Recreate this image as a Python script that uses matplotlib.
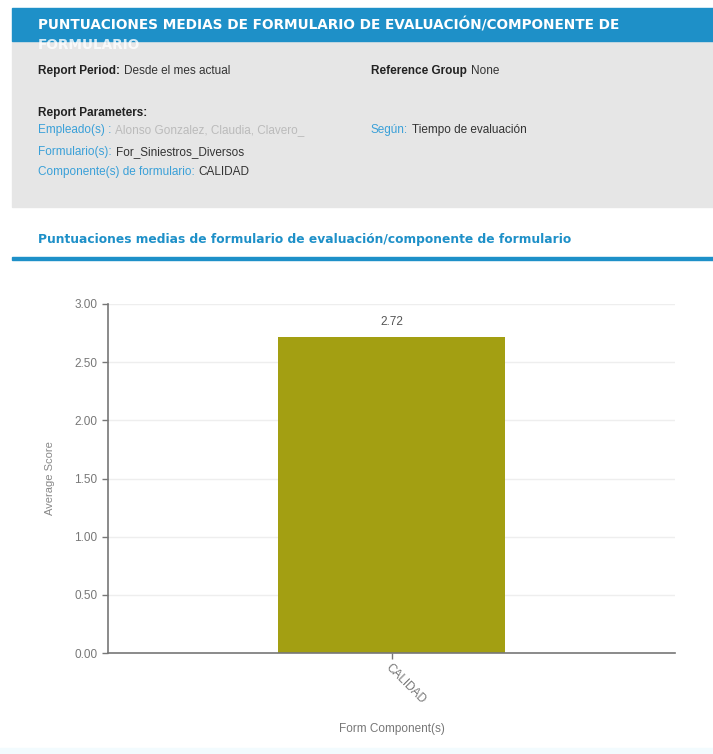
import matplotlib.pyplot as plt
from matplotlib.patches import Rectangle

W, H = 713, 754

categories = ["CALIDAD"]
scores = [2.72]
y_ticks = [0.0, 0.5, 1.0, 1.5, 2.0, 2.5, 3.0]

title = "PUNTUACIONES MEDIAS DE FORMULARIO DE EVALUACIÓN/COMPONENTE DE"
title2 = "FORMULARIO"
subtitle = "Puntuaciones medias de formulario de evaluación/componente de formulario"

# label / value pairs of the parameter panel: (x, y, label, value, label style)
params = [
    (38, 71, "Report Period:", "Desde el mes actual", "bold"),
    (371, 71, "Reference Group", "None", "bold"),
    (38, 113, "Report Parameters:", "", "bold"),
    (38, 130, "Empleado(s) :", "Alonso Gonzalez, Claudia, Clavero_", "link"),
    (38, 152, "Formulario(s):", "For_Siniestros_Diversos", "link"),
    (38, 172, "Componente(s) de formulario:", "CALIDAD", "link"),
    (371, 130, "Según:", "Tiempo de evaluación", "link"),
]

blue = "#1e90c8"
label_blue = "#3aa0d8"
gray_panel = "#e6e6e6"
bar_color = "#a39f12"
axis_gray = "#777777"


def fx(px):
    return px / W


def fy(py):
    return 1 - py / H


fig = plt.figure(figsize=(W / 100, H / 100), dpi=100)
fig.patch.set_facecolor("white")
renderer = fig.canvas.get_renderer()

# header band and parameter panel
fig.patches.append(Rectangle((fx(12), fy(207)), fx(701), (207 - 41) / H,
                             transform=fig.transFigure, color=gray_panel, zorder=0))
fig.patches.append(Rectangle((fx(12), fy(41)), fx(701), 33 / H,
                             transform=fig.transFigure, color=blue, zorder=0))
fig.patches.append(Rectangle((fx(12), fy(259.5)), fx(701), 3 / H,
                             transform=fig.transFigure, color=blue, zorder=0))
fig.patches.append(Rectangle((0, 0), 1, 6 / H,
                             transform=fig.transFigure, color="#f2fbfe", zorder=0))

fig.text(fx(38), fy(25), title, color="white", fontsize=9.8, fontweight="bold",
         family="DejaVu Sans", va="center")
fig.text(fx(38), fy(45), title2, color="white", fontsize=9.8, fontweight="bold",
         family="DejaVu Sans", va="center", alpha=0.8)

body = dict(fontsize=8.5, family="Liberation Sans", va="center")
for x, y, lab, val, kind in params:
    if kind == "bold":
        t = fig.text(fx(x), fy(y), lab, fontweight="bold", color="#222222", **body)
    else:
        t = fig.text(fx(x), fy(y), lab, color=label_blue, **body)
    if val:
        end = t.get_window_extent(renderer).x1
        vcol = "#bbbbbb" if val.startswith("Alonso") else "#333333"
        fig.text((end + 4) / W, fy(y), val, color=vcol, **body)

fig.text(fx(38), fy(240), subtitle, color=blue, fontsize=8.8, fontweight="bold",
         family="DejaVu Sans", va="center")

# chart
ax = fig.add_axes([fx(108), fy(653), fx(675 - 108), (653 - 304) / H])
bars = ax.bar(categories, scores, width=0.4, color=bar_color, zorder=2)
ax.set_xlim(-0.5, 0.5)
ax.set_ylim(0, 3.0)
ax.set_yticks(y_ticks)
ax.set_yticklabels([f"{v:.2f}" for v in y_ticks])
ax.yaxis.grid(True, color="#eeeeee", linewidth=1, zorder=0)
ax.set_axisbelow(True)
for s in ["top", "right"]:
    ax.spines[s].set_visible(False)
for s in ["left", "bottom"]:
    ax.spines[s].set_color(axis_gray)
    ax.spines[s].set_linewidth(1.2)
ax.tick_params(axis="both", colors=axis_gray, labelsize=8.5, length=4, width=1,
               labelcolor="#777777")
ax.tick_params(axis="x", pad=2)
for lbl in ax.get_xticklabels():
    lbl.set_rotation(-45)
    lbl.set_ha("left")
    lbl.set_va("top")
    lbl.set_rotation_mode("anchor")
    lbl.set_family("Liberation Sans")
for lbl in ax.get_yticklabels():
    lbl.set_family("Liberation Sans")

for b, v in zip(bars, scores):
    ax.annotate(f"{v:.2f}", (b.get_x() + b.get_width() / 2, v), xytext=(0, 6.5),
                textcoords="offset points", ha="center", va="bottom",
                fontsize=8.5, color="#555555", family="Liberation Sans")

ax.set_ylabel("Average Score", fontsize=8, color="#888888", family="Liberation Sans",
              va="center")
ax.yaxis.set_label_coords((50 - 108) / 567, 0.5)
ax.set_xlabel("Form Component(s)", fontsize=8.5, color="#777777", family="Liberation Sans",
              va="center")
ax.xaxis.set_label_coords(0.5, (653 - 729) / 349)

fig.savefig("out.png", dpi=100)
